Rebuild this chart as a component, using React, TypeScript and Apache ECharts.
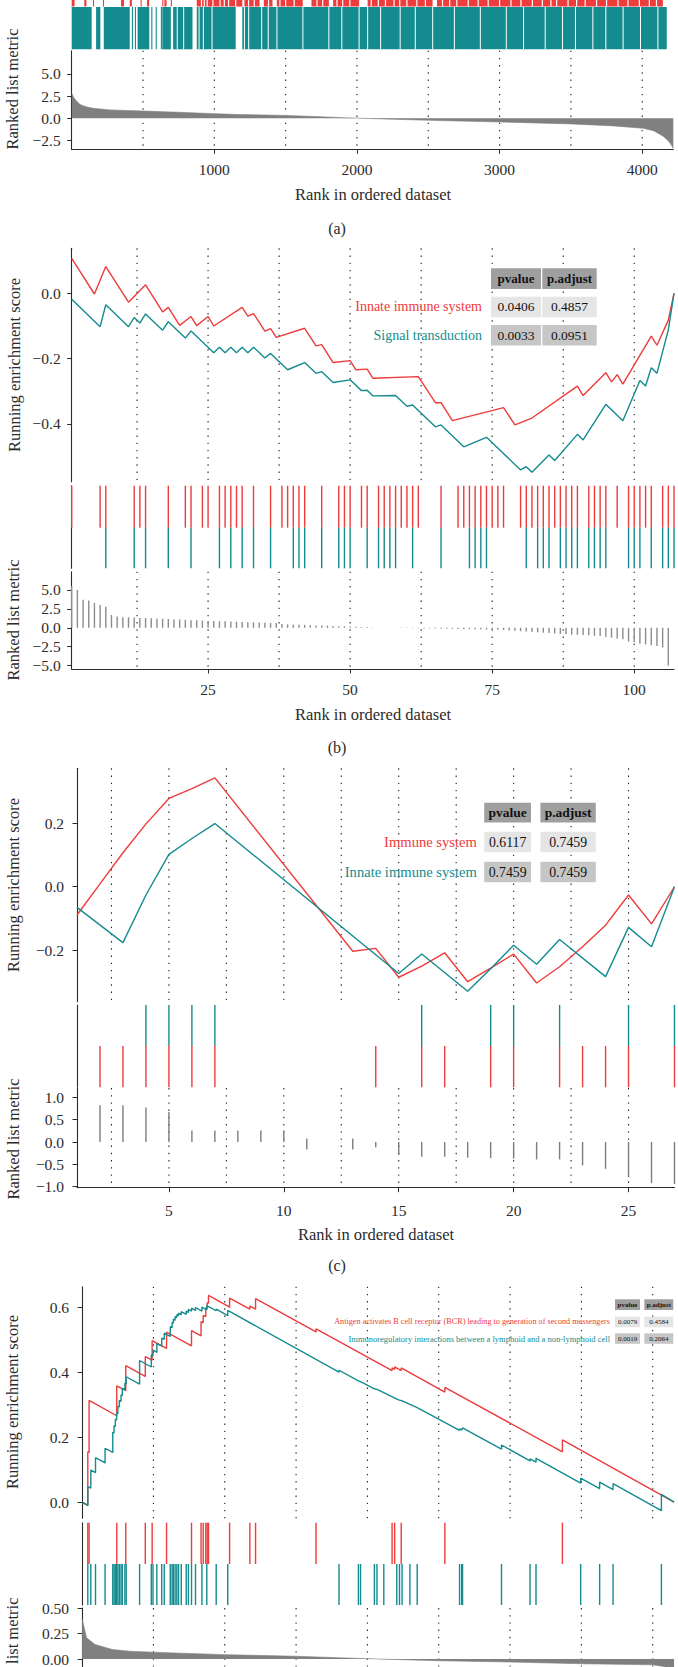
import React, { useEffect, useRef } from "react";
import * as echarts from "echarts";

// ---------------- colours / fonts ----------------
const RED = "#ee3b3b";
const TEAL = "#138b8f";
const GRAY = "#808080";
const INK = "#2b2b2b";
const FONT = "Liberation Serif";

// ---------------- panel (a) ----------------
const aN = 4218;
const aXTicks = [1000, 2000, 3000, 4000];
const aYTicks = [-2.5, 0, 2.5, 5];
const aGuides = [500, 1000, 1500, 2000, 2500, 3000, 3500, 4000];
const aRedBands = [[0, 20], [88, 103], [149, 152], [219, 222], [346, 367], [407, 422], [483, 486], [528, 543], [635, 638], [650, 665], [695, 698], [877, 1196], [1211, 1317], [1347, 1408], [1438, 1620], [1681, 1803], [1833, 2015], [2075, 2530], [2561, 4145]];
const aRedGaps = [910, 930, 950, 990, 1040, 1070, 1100, 1150, 1240, 1280, 1380, 1460, 1500, 1560, 1650, 1720, 1760, 1860, 1900, 1950, 2100, 2150, 2200, 2260, 2300, 2350, 2420, 2480, 2600, 2650, 2700, 2780, 2850, 2920, 3000, 3080, 3150, 3230, 3300, 3360, 3400, 3480, 3540, 3600, 3680, 3750, 3830, 3900, 3980, 4050, 4100];
const aTealBands = [[0, 140], [171, 201], [225, 407], [422, 424], [443, 445], [462, 544], [558, 560], [589, 591], [625, 627], [635, 695], [711, 847], [877, 1150], [1196, 4172]];
const aTealGaps = [740, 785, 893, 923, 984, 1211, 1241, 1332, 1378, 1439, 1621, 1803, 1894, 2015, 2075, 2166, 2303, 2409, 2531, 2683, 2865, 3047, 3168, 3320, 3441, 3532, 3654, 3745, 3866, 3988, 4110];
const aMetric = [[1, 2.8], [15, 2.3], [31, 2.0], [58, 1.55], [100, 1.3], [152, 1.12], [269, 0.95], [503, 0.82], [750, 0.68], [1006, 0.52], [1182, 0.42], [1500, 0.33], [1750, 0.17], [2000, 0.02], [2250, -0.1], [2570, -0.25], [3008, -0.41], [3506, -0.63], [3800, -0.85], [4007, -1.12], [4080, -1.4], [4114, -1.7], [4150, -2.05], [4184, -2.55], [4205, -3.0], [4218, -3.4]];

// ---------------- panel (b) ----------------
const bN = 107;
const bXTicks = [25, 50, 75, 100];
const bEsTicks = [-0.4, -0.2, 0];
const bMetricTicks = [-5, -2.5, 0, 2.5, 5];
const bGuides = [12.5, 25, 37.5, 50, 62.5, 75, 87.5, 100];
const bRedHits = [1, 6, 7, 12, 13, 14, 18, 21, 22, 24, 25, 27, 28, 29, 30, 31, 33, 36, 38, 39, 40, 41, 42, 45, 48, 49, 50, 52, 53, 55, 56, 57, 58, 59, 60, 61, 62, 66, 69, 70, 71, 72, 73, 74, 75, 76, 77, 80, 81, 82, 83, 84, 85, 86, 87, 88, 89, 90, 92, 93, 94, 95, 97, 99, 100, 101, 102, 103, 105, 106, 107];
const bTealHits = [7, 12, 14, 18, 22, 27, 29, 31, 33, 36, 40, 41, 42, 45, 48, 49, 50, 53, 55, 56, 57, 58, 61, 66, 71, 72, 73, 74, 81, 83, 84, 85, 87, 88, 89, 90, 92, 93, 94, 95, 99, 100, 101, 103, 105, 106, 107];
const bRedES = [[1, 0.107], [5, -0.002], [7, 0.082], [11, -0.027], [14, 0.026], [17, -0.057], [18, -0.043], [20, -0.098], [22, -0.071], [23, -0.099], [25, -0.071], [26, -0.1], [31, -0.043], [32, -0.07], [33, -0.062], [35, -0.116], [36, -0.108], [37, -0.135], [42, -0.107], [44, -0.161], [45, -0.157], [47, -0.212], [50, -0.206], [51, -0.234], [53, -0.232], [54, -0.26], [62, -0.255], [65, -0.335], [66, -0.335], [68, -0.39], [77, -0.35], [79, -0.403], [82, -0.382], [90, -0.284], [91, -0.313], [95, -0.243], [96, -0.271], [97, -0.249], [98, -0.278], [103, -0.131], [104, -0.159], [106, -0.082], [107, 0]];
const bTealES = [[1, -0.018], [6, -0.102], [7, -0.035], [11, -0.102], [12, -0.074], [13, -0.091], [14, -0.063], [17, -0.113], [18, -0.087], [21, -0.137], [22, -0.115], [26, -0.182], [27, -0.165], [28, -0.182], [29, -0.165], [30, -0.182], [31, -0.165], [32, -0.182], [33, -0.165], [35, -0.198], [36, -0.184], [39, -0.234], [42, -0.212], [44, -0.245], [45, -0.24], [47, -0.273], [50, -0.265], [52, -0.298], [53, -0.297], [54, -0.314], [58, -0.313], [60, -0.346], [61, -0.342], [65, -0.409], [66, -0.403], [70, -0.47], [74, -0.441], [80, -0.541], [81, -0.531], [82, -0.548], [85, -0.495], [86, -0.512], [90, -0.432], [91, -0.449], [95, -0.34], [98, -0.39], [101, -0.267], [102, -0.284], [103, -0.228], [104, -0.245], [106, -0.112], [107, 0]];
const bMetric = [5.5, 5.0, 3.7, 3.6, 3.3, 3.0, 2.8, 1.7, 1.5, 1.4, 1.4, 1.35, 1.3, 1.3, 1.25, 1.2, 1.2, 1.15, 1.1, 1.1, 1.05, 1.0, 1.0, 0.95, 0.9, 0.9, 0.88, 0.85, 0.82, 0.8, 0.78, 0.75, 0.72, 0.7, 0.68, 0.65, 0.62, 0.5, 0.45, 0.42, 0.4, 0.38, 0.35, 0.32, 0.3, 0.28, 0.25, 0.22, 0.2, 0.18, 0.15, 0.12, 0.1, 0.05, 0.03, 0.02, 0.01, -0.01, -0.02, -0.03, -0.05, -0.07, -0.08, -0.09, -0.1, -0.12, -0.13, -0.14, -0.15, -0.16, -0.17, -0.18, -0.2, -0.22, -0.24, -0.26, -0.3, -0.35, -0.4, -0.45, -0.5, -0.55, -0.6, -0.65, -0.7, -0.75, -0.8, -0.85, -0.9, -0.92, -0.95, -1.0, -1.05, -1.1, -1.2, -1.3, -1.4, -1.5, -1.8, -1.9, -2.1, -2.2, -2.3, -2.4, -2.6, -5.0];
const bTableLabels = ["Innate immune system", "Signal transduction"];
const bPvalues = ["0.0406", "0.0033"];
const bPadjust = ["0.4857", "0.0951"];

// ---------------- panel (c) ----------------
const cXTicks = [5, 10, 15, 20, 25];
const cEsTicks = [-0.2, 0, 0.2];
const cMetricTicks = [-1, -0.5, 0, 0.5, 1];
const cGuides = [2.5, 5, 7.5, 10, 12.5, 15, 17.5, 20, 22.5, 25];
const cRedHits = [2, 3, 4, 5, 6, 7, 14, 16, 17, 19, 20, 22, 23, 24, 25, 27];
const cTealHits = [4, 5, 6, 7, 16, 19, 20, 22, 25, 27];
const cRedES = [[1, -0.089], [2, 0.009], [3, 0.107], [4, 0.198], [5, 0.278], [6, 0.309], [7, 0.343], [13, -0.203], [14, -0.194], [15, -0.285], [16, -0.25], [17, -0.208], [18, -0.299], [19, -0.256], [20, -0.212], [21, -0.303], [22, -0.252], [23, -0.189], [24, -0.121], [25, -0.026], [26, -0.117], [27, 0]];
const cTealES = [[1, -0.065], [3, -0.176], [4, -0.026], [5, 0.102], [6, 0.152], [7, 0.199], [15, -0.273], [16, -0.212], [18, -0.329], [19, -0.258], [20, -0.184], [21, -0.244], [22, -0.166], [24, -0.283], [25, -0.128], [26, -0.189], [27, 0]];
const cMetric = [[2, 0, 0.82], [3, 0, 0.82], [4, 0, 0.77], [5, 0, 0.67], [6, 0, 0.26], [7, 0, 0.26], [8, 0, 0.26], [9, 0, 0.26], [10, 0, 0.26], [11, 0.08, -0.17], [13, 0.08, -0.17], [14, 0, -0.12], [15, 0, -0.29], [16, 0, -0.33], [17, 0, -0.33], [18, 0, -0.35], [19, 0, -0.36], [20, 0, -0.37], [21, 0, -0.39], [22, 0, -0.39], [23, 0, -0.52], [24, 0, -0.6], [25, 0, -0.79], [26, 0, -0.92], [27, 0, -0.94]];
const cTableLabels = ["Immune system", "Innate immune system"];
const cPvalues = ["0.6117", "0.7459"];
const cPadjust = ["0.7459", "0.7459"];

// ---------------- panel (d) ----------------
const dN = 4150;
const dEsTicks = [0, 0.2, 0.4, 0.6];
const dMetricTicks = [0, 0.25, 0.5];
const dGuides = [500, 1000, 1500, 2000, 2500, 3000, 3500, 4000];
const dRedHits = [40, 49, 243, 306, 443, 491, 592, 767, 834, 849, 867, 877, 886, 1034, 1176, 1216, 1640, 2173, 2191, 2237, 2543, 3367];
const dTealHits = [40, 61, 94, 161, 215, 224, 233, 242, 251, 261, 273, 282, 300, 309, 403, 485, 497, 524, 558, 576, 618, 631, 640, 652, 664, 676, 695, 730, 745, 767, 795, 840, 874, 940, 1021, 1801, 1937, 1952, 2049, 2067, 2115, 2206, 2225, 2243, 2298, 2349, 2646, 2661, 2667, 2940, 3140, 3182, 3495, 3628, 3722, 4061];
const dRedES = [[0, 0], [40, -0.01], [40, 0.155], [49, 0.153], [49, 0.313], [243, 0.266], [243, 0.358], [306, 0.343], [306, 0.42], [443, 0.387], [443, 0.448], [491, 0.437], [491, 0.497], [592, 0.473], [592, 0.523], [767, 0.481], [767, 0.528], [834, 0.512], [834, 0.556], [849, 0.552], [849, 0.575], [867, 0.571], [867, 0.598], [877, 0.596], [877, 0.614], [886, 0.612], [886, 0.636], [1034, 0.6], [1034, 0.628], [1176, 0.594], [1176, 0.603], [1216, 0.594], [1216, 0.626], [1640, 0.524], [1640, 0.533], [2173, 0.405], [2173, 0.413], [2191, 0.409], [2191, 0.416], [2237, 0.405], [2237, 0.413], [2543, 0.339], [2543, 0.353], [3367, 0.155], [3367, 0.192], [4150, 0]];
const dTealES = [[0, 0], [40, -0.01], [40, 0.048], [61, 0.043], [61, 0.099], [94, 0.091], [94, 0.137], [161, 0.121], [161, 0.166], [215, 0.153], [215, 0.215], [224, 0.213], [224, 0.235], [233, 0.233], [233, 0.255], [242, 0.253], [242, 0.275], [251, 0.273], [251, 0.295], [261, 0.293], [261, 0.313], [273, 0.31], [273, 0.33], [282, 0.328], [282, 0.35], [300, 0.346], [300, 0.366], [309, 0.364], [309, 0.386], [403, 0.363], [403, 0.436], [485, 0.416], [485, 0.453], [497, 0.45], [497, 0.468], [524, 0.461], [524, 0.488], [558, 0.48], [558, 0.505], [576, 0.501], [576, 0.52], [618, 0.51], [618, 0.54], [631, 0.537], [631, 0.553], [640, 0.551], [640, 0.563], [652, 0.56], [652, 0.571], [664, 0.568], [664, 0.577], [676, 0.574], [676, 0.582], [695, 0.577], [695, 0.586], [730, 0.578], [730, 0.588], [745, 0.584], [745, 0.593], [767, 0.588], [767, 0.597], [795, 0.59], [795, 0.599], [840, 0.588], [840, 0.6], [874, 0.592], [874, 0.605], [940, 0.589], [940, 0.594], [1021, 0.574], [1021, 0.59], [1801, 0.4], [1801, 0.406], [1937, 0.373], [1937, 0.375], [1952, 0.371], [1952, 0.373], [2049, 0.349], [2049, 0.351], [2067, 0.347], [2067, 0.349], [2115, 0.337], [2115, 0.339], [2206, 0.317], [2206, 0.319], [2225, 0.314], [2225, 0.316], [2243, 0.312], [2243, 0.314], [2298, 0.301], [2298, 0.303], [2349, 0.291], [2349, 0.293], [2646, 0.221], [2646, 0.226], [2661, 0.222], [2661, 0.226], [2667, 0.225], [2667, 0.229], [2940, 0.163], [2940, 0.176], [3140, 0.127], [3140, 0.133], [3182, 0.123], [3182, 0.135], [3495, 0.059], [3495, 0.074], [3628, 0.042], [3628, 0.062], [3722, 0.039], [3722, 0.057], [4061, -0.026], [4061, 0.024], [4150, 0]];
const dMetric = [[0, 0.4], [31, 0.21], [91, 0.143], [213, 0.093], [334, 0.077], [497, 0.067], [1000, 0.043], [1500, 0.027], [2001, 0.003], [2501, -0.017], [3001, -0.03], [3501, -0.047], [4001, -0.057], [4080, -0.075], [4120, -0.11], [4150, -0.3]];
const dTableLabels = ["Antigen activates B cell receptor (BCR) leading to generation of second messengers", "Immunoregulatory interactions between a lymphoid and a non-lymphoid cell"];
const dPvalues = ["0.0079", "0.0019"];
const dPadjust = ["0.4584", "0.2064"];

// ---------------- layout ----------------
const PA = { l: 71.7, r: 673.3 };
const PB = { l: 71.7, r: 674 };
const PC = { l: 77, r: 674.5 };
const PD = { l: 82.1, r: 674.1 };

const GRIDS = [
  { p: PA, t: 0, h: 6.5 },          // 0 a red row
  { p: PA, t: 7, h: 42.3 },         // 1 a teal row
  { p: PA, t: 50.7, h: 98.6 },      // 2 a metric
  { p: PB, t: 248.3, h: 233.4 },    // 3 b ES
  { p: PB, t: 485.7, h: 42 },       // 4 b red row
  { p: PB, t: 527.7, h: 40.6 },     // 5 b teal row
  { p: PB, t: 571.7, h: 97.3 },     // 6 b metric
  { p: PC, t: 768.3, h: 233.4 },    // 7 c ES
  { p: PC, t: 1005, h: 41 },        // 8 c teal row
  { p: PC, t: 1046, h: 41.3 },      // 9 c red row
  { p: PC, t: 1088, h: 99.7 },      // 10 c metric
  { p: PD, t: 1286.7, h: 231.6 },   // 11 d ES
  { p: PD, t: 1522.7, h: 41.3 },    // 12 d red row
  { p: PD, t: 1564, h: 41 },        // 13 d teal row
  { p: PD, t: 1608, h: 59 },        // 14 d metric (continues below the page edge in the original)
];

const fmt = (d: number) => (v: number) => (v < 0 ? "\u2212" : "") + Math.abs(v).toFixed(d);

function hiddenX(gi: number, min: number, max: number) {
  return { type: "value", gridIndex: gi, min, max, show: false, axisLine: { show: false, onZero: false } };
}
function shownX(gi: number, min: number, max: number, ticks: number[], margin: number) {
  return {
    type: "value", gridIndex: gi, min, max,
    axisLine: { show: true, onZero: false, lineStyle: { color: INK, width: 1.1 } },
    axisTick: { show: true, length: 4.5, customValues: ticks, lineStyle: { color: INK, width: 1 } },
    axisLabel: { show: true, customValues: ticks, margin, color: INK, fontFamily: FONT, fontSize: 15.5, showMinLabel: true, showMaxLabel: true, hideOverlap: false, formatter: (v: number) => String(v) },
    splitLine: { show: false },
  };
}
function rowY(gi: number, show: boolean) {
  return {
    type: "value", gridIndex: gi, min: 0, max: 1, show,
    axisLine: { show: true, onZero: false, lineStyle: { color: INK, width: 1.1 } },
    axisTick: { show: false }, axisLabel: { show: false }, splitLine: { show: false },
  };
}
function valY(gi: number, min: number, max: number, ticks: number[], d: number, margin: number) {
  return {
    type: "value", gridIndex: gi, min, max,
    axisLine: { show: true, onZero: false, lineStyle: { color: INK, width: 1.1 } },
    axisTick: { show: true, length: 4.5, customValues: ticks, lineStyle: { color: INK, width: 1 } },
    axisLabel: { show: true, customValues: ticks, margin, color: INK, fontFamily: FONT, fontSize: 15.5, showMinLabel: true, showMaxLabel: true, hideOverlap: false, formatter: fmt(d) },
    splitLine: { show: false },
  };
}

function guideSeries(gi: number, xs: number[]) {
  return {
    type: "custom", xAxisIndex: gi, yAxisIndex: gi, silent: true, z: 1,
    data: xs.map((x) => [x, 0]),
    renderItem: (params: any, api: any) => {
      const x = api.coord([api.value(0), 0])[0];
      const cs = params.coordSys;
      return {
        type: "line",
        shape: { x1: x, y1: cs.y, x2: x, y2: cs.y + cs.height },
        style: { stroke: "#222", lineWidth: 1.1, lineDash: [1.4, 5.8] },
      };
    },
  };
}
function hitSeries(gi: number, hits: number[], color: string, w = 1.4) {
  return {
    type: "custom", xAxisIndex: gi, yAxisIndex: gi, silent: true, z: 2,
    data: hits.map((h) => [h, 0]),
    renderItem: (params: any, api: any) => {
      const p0 = api.coord([api.value(0), 0]);
      const p1 = api.coord([api.value(0), 1]);
      return { type: "rect", shape: { x: p0[0] - w / 2, y: p1[1], width: w, height: p0[1] - p1[1] }, style: { fill: color } };
    },
  };
}
function bandSeries(gi: number, bands: number[][], color: string) {
  return {
    type: "custom", xAxisIndex: gi, yAxisIndex: gi, silent: true, z: 2,
    data: bands.map((b) => [b[0], b[1]]),
    renderItem: (params: any, api: any) => {
      const p0 = api.coord([api.value(0), 0]);
      const p1 = api.coord([api.value(1), 1]);
      return { type: "rect", shape: { x: p0[0], y: p1[1], width: Math.max(1.1, p1[0] - p0[0]), height: p0[1] - p1[1] }, style: { fill: color } };
    },
  };
}
function segSeries(gi: number, segs: number[][], color: string, w = 1.4) {
  return {
    type: "custom", xAxisIndex: gi, yAxisIndex: gi, silent: true, z: 2,
    data: segs,
    renderItem: (params: any, api: any) => {
      const a = api.coord([api.value(0), api.value(1)]);
      const b = api.coord([api.value(0), api.value(2)]);
      return { type: "rect", shape: { x: a[0] - w / 2, y: Math.min(a[1], b[1]), width: w, height: Math.abs(a[1] - b[1]) }, style: { fill: color } };
    },
  };
}
function esSeries(gi: number, data: number[][], color: string, z: number) {
  return {
    type: "line", xAxisIndex: gi, yAxisIndex: gi, data, symbol: "none", showSymbol: false, z,
    lineStyle: { color, width: 1.4 }, silent: true,
  };
}
function areaSeries(gi: number, data: number[][]) {
  return {
    type: "line", xAxisIndex: gi, yAxisIndex: gi, data, symbol: "none", showSymbol: false, z: 2,
    lineStyle: { color: GRAY, width: 0.6 }, areaStyle: { color: GRAY, opacity: 1, origin: "auto" }, silent: true,
  };
}

function text(x: number, y: number, s: string, size: number, opts: any = {}) {
  return {
    type: "text", x, y, z: 100, rotation: opts.rotation || 0,
    style: {
      text: s, fill: opts.fill || INK, fontFamily: FONT, fontSize: size,
      fontWeight: opts.weight || "normal", align: opts.align || "center", verticalAlign: "middle",
    },
  };
}

function table(cfg: any) {
  const els: any[] = [];
  const HEAD = "#9f9f9f";
  const FILLS = ["#e5e5e5", "#c6c6c6"];
  const heads = ["pvalue", "p.adjust"];
  for (let c = 0; c < 2; c++) {
    els.push({ type: "rect", z: 99, shape: { x: cfg.colX[c], y: cfg.headY, width: cfg.colW[c], height: cfg.headH }, style: { fill: HEAD } });
    els.push(text(cfg.colX[c] + cfg.colW[c] / 2, cfg.headY + cfg.headH / 2, heads[c], cfg.headSize, { weight: "bold", fill: "#111" }));
  }
  for (let r = 0; r < 2; r++) {
    const vals = [cfg.pv[r], cfg.pa[r]];
    for (let c = 0; c < 2; c++) {
      els.push({ type: "rect", z: 99, shape: { x: cfg.colX[c], y: cfg.rowY[r], width: cfg.colW[c], height: cfg.rowH }, style: { fill: FILLS[r] } });
      els.push(text(cfg.colX[c] + cfg.colW[c] / 2, cfg.rowY[r] + cfg.rowH / 2, vals[c], cfg.valSize, { fill: "#111" }));
    }
    els.push(text(cfg.labelX, cfg.rowY[r] + cfg.rowH / 2, cfg.labels[r], cfg.labelSizes[r], { align: "right", fill: r === 0 ? RED : TEAL }));
  }
  return els;
}

function buildOption() {
  const grid = GRIDS.map((g) => ({ left: g.p.l, top: g.t, width: g.p.r - g.p.l, height: g.h, containLabel: false }));
  const xAxis = [
    hiddenX(0, 0, aN), hiddenX(1, 0, aN), shownX(2, 0, aN, aXTicks, 12.5),
    hiddenX(3, 1, bN), hiddenX(4, 1, bN), hiddenX(5, 1, bN), shownX(6, 1, bN, bXTicks, 12.5),
    hiddenX(7, 1, 27), hiddenX(8, 1, 27), hiddenX(9, 1, 27), shownX(10, 1, 27, cXTicks, 14.5),
    hiddenX(11, 0, dN), hiddenX(12, 0, dN), hiddenX(13, 0, dN), hiddenX(14, 0, dN),
  ];
  const yAxis = [
    rowY(0, false), rowY(1, false), valY(2, -3.48, 7.6, aYTicks, 1, 11),
    valY(3, -0.577, 0.138, bEsTicks, 1, 11), rowY(4, true), rowY(5, true), valY(6, -5.45, 7.42, bMetricTicks, 1, 11),
    valY(7, -0.362, 0.373, cEsTicks, 1, 13), rowY(8, true), rowY(9, true), valY(10, -1.022, 1.208, cMetricTicks, 1, 13),
    valY(11, -0.0495, 0.663, dEsTicks, 1, 13), rowY(12, true), rowY(13, true), valY(14, -0.075, 0.503, dMetricTicks, 2, 13),
  ];

  const series: any[] = [
    // (a)
    bandSeries(0, aRedBands, RED),
    hitSeries(0, aRedGaps, "#ffffff", 1.2),
    bandSeries(1, aTealBands, TEAL),
    hitSeries(1, aTealGaps, "#ffffff", 1),
    guideSeries(2, aGuides),
    areaSeries(2, aMetric),
    // (b)
    guideSeries(3, bGuides),
    esSeries(3, bRedES, RED, 3),
    esSeries(3, bTealES, TEAL, 4),
    hitSeries(4, bRedHits, RED),
    hitSeries(5, bTealHits, TEAL),
    guideSeries(6, bGuides),
    segSeries(6, bMetric.map((v, i) => [i + 1, 0, v]), "#8c8c8c"),
    // (c)
    guideSeries(7, cGuides),
    esSeries(7, cRedES, RED, 3),
    esSeries(7, cTealES, TEAL, 4),
    hitSeries(8, cTealHits, TEAL),
    hitSeries(9, cRedHits, RED),
    guideSeries(10, cGuides),
    segSeries(10, cMetric, "#7d7d7d"),
    // (d)
    guideSeries(11, dGuides),
    esSeries(11, dRedES, RED, 3),
    esSeries(11, dTealES, TEAL, 4),
    hitSeries(12, dRedHits, RED),
    hitSeries(13, dTealHits, TEAL),
    guideSeries(14, dGuides),
    areaSeries(14, dMetric),
  ];

  const graphics: any[] = [
    text(12, 89, "Ranked list metric", 16.5, { rotation: Math.PI / 2 }),
    text(373, 194, "Rank in ordered dataset", 16.5),
    text(337, 228, "(a)", 16),
    text(14, 365, "Running enrichment score", 16.5, { rotation: Math.PI / 2 }),
    text(13, 620, "Ranked list metric", 16.5, { rotation: Math.PI / 2 }),
    text(373, 714, "Rank in ordered dataset", 16.5),
    text(337, 747.5, "(b)", 16),
    text(13, 885, "Running enrichment score", 16.5, { rotation: Math.PI / 2 }),
    text(13, 1139, "Ranked list metric", 16.5, { rotation: Math.PI / 2 }),
    text(376, 1234, "Rank in ordered dataset", 16.5),
    text(337, 1265.5, "(c)", 16),
    text(12, 1402, "Running enrichment score", 16.5, { rotation: Math.PI / 2 }),
    text(12, 1658, "Ranked list metric", 16.5, { rotation: Math.PI / 2 }),
    ...table({ colX: [491, 542.3], colW: [50, 54.4], headY: 268.3, headH: 20.7, rowY: [296.7, 325], rowH: 20.5, labelX: 482, labels: bTableLabels, pv: bPvalues, pa: bPadjust, headSize: 13, valSize: 13.5, labelSizes: [14, 14] }),
    ...table({ colX: [484.2, 540.4], colW: [46.8, 55.4], headY: 802.7, headH: 19.8, rowY: [831.7, 861.7], rowH: 20.6, labelX: 476.9, labels: cTableLabels, pv: cPvalues, pa: cPadjust, headSize: 13.5, valSize: 13.8, labelSizes: [14.6, 14.6] }),
    ...table({ colX: [615, 644.3], colW: [25, 29], headY: 1299.3, headH: 10.7, rowY: [1316.7, 1333.3], rowH: 10.5, labelX: 610, labels: dTableLabels, pv: dPvalues, pa: dPadjust, headSize: 7, valSize: 7, labelSizes: [8.2, 8.5] }),
  ];

  return {
    animation: false,
    backgroundColor: "#ffffff",
    grid, xAxis, yAxis, series,
    graphic: { elements: graphics },
  };
}

export default function App() {
  const ref = useRef<HTMLDivElement>(null);
  useEffect(() => {
    const chart = echarts.init(ref.current as HTMLDivElement, null, { renderer: "svg" });
    chart.setOption(buildOption() as any);
    return () => chart.dispose();
  }, []);
  return <div ref={ref} style={{ position: "absolute", left: 0, top: 0, width: 678, height: 1667, background: "#fff" }} />;
}
